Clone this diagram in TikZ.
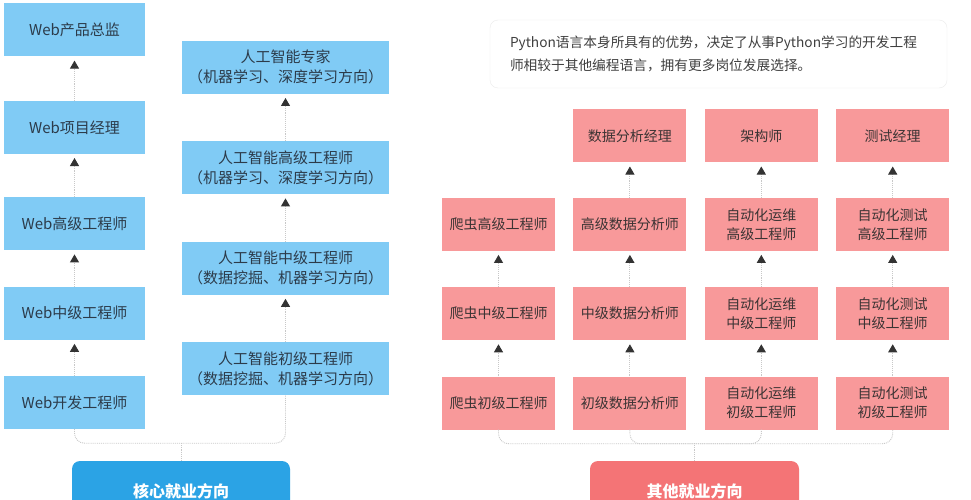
\documentclass[tikz,border=0pt]{standalone}
\usepackage{fontspec}
\newfontfamily\cjk{Noto Sans CJK SC}
\usetikzlibrary{positioning,arrows.meta}

\definecolor{webblue}{HTML}{80CBF5}
\definecolor{coreblue}{HTML}{2BA3E5}
\definecolor{otherred}{HTML}{F8999A}
\definecolor{mainred}{HTML}{F47476}
\definecolor{bluetext}{HTML}{2C3B4A}
\definecolor{redtext}{HTML}{3C3434}
\definecolor{dotgray}{HTML}{C8C8C8}
\definecolor{tipgray}{HTML}{333333}

\begin{document}
\begin{tikzpicture}[
    x=1pt, y=-1pt,
    webbox/.style={fill=webblue, text=bluetext, minimum width=141pt, minimum height=53pt, inner sep=0pt, align=center, font=\cjk\fontsize{15}{20}\selectfont},
    aibox/.style={webbox, minimum width=207pt},
    jobbox/.style={fill=otherred, text=redtext, minimum width=113pt, minimum height=53pt, inner sep=0pt, align=center, font=\cjk\fontsize{14}{19}\selectfont},
    mainbox/.style={rounded corners=8pt, text=white, minimum height=60pt, inner sep=0pt, font=\cjk\bfseries\fontsize{16}{20}\selectfont},
    up/.style={draw=dotgray, densely dotted, line width=0.9pt, shorten >=4pt, -{Triangle[width=9pt,length=8pt,color=tipgray]}},
    bracket/.style={draw=dotgray, densely dotted, line width=0.9pt, rounded corners=10pt}
    ]
    \useasboundingbox[fill=white] (0,0) rectangle (971,500);

    %% Web column
    \node[webbox](w1) at (74.5,402.5) {Web开发工程师};
    \node[webbox](w2)[above=36pt of w1]{Web中级工程师};
    \node[webbox](w3)[above=36pt of w2]{Web高级工程师};
    \node[webbox](w4)[above=43pt of w3]{Web项目经理};
    \node[webbox](w5)[above=44pt of w4]{Web产品总监};

    %% AI column
    \node[aibox](a1) at (285.5,368.5) {人工智能初级工程师\\（数据挖掘、机器学习方向）};
    \node[aibox](a2)[above=47pt of a1]{人工智能中级工程师\\（数据挖掘、机器学习方向）};
    \node[aibox](a3)[above=47pt of a2]{人工智能高级工程师\\（机器学习、深度学习方向）};
    \node[aibox](a4)[above=47pt of a3]{人工智能专家\\（机器学习、深度学习方向）};

    %% Core direction
    \node[mainbox, fill=coreblue, minimum width=218pt](core) at (181,491) {核心就业方向};

    %% Other columns
    \node[jobbox](c1) at (498.5,403) {爬虫初级工程师};
    \node[jobbox](c2)[above=36pt of c1]{爬虫中级工程师};
    \node[jobbox](c3)[above=36pt of c2]{爬虫高级工程师};

    \node[jobbox](d1)[right=18pt of c1]{初级数据分析师};
    \node[jobbox](d2)[above=36pt of d1]{中级数据分析师};
    \node[jobbox](d3)[above=36pt of d2]{高级数据分析师};
    \node[jobbox](d4)[above=35pt of d3]{数据分析经理};

    \node[jobbox](o1)[right=18pt of d1]{自动化运维\\初级工程师};
    \node[jobbox](o2)[above=36pt of o1]{自动化运维\\中级工程师};
    \node[jobbox](o3)[above=36pt of o2]{自动化运维\\高级工程师};
    \node[jobbox](o4)[above=35pt of o3]{架构师};

    \node[jobbox](t1)[right=18pt of o1]{自动化测试\\初级工程师};
    \node[jobbox](t2)[above=36pt of t1]{自动化测试\\中级工程师};
    \node[jobbox](t3)[above=36pt of t2]{自动化测试\\高级工程师};
    \node[jobbox](t4)[above=35pt of t3]{测试经理};

    %% Other direction
    \node[mainbox, fill=mainred, minimum width=209pt](other) at (694.5,491) {其他就业方向};

    %% Note
    \node[draw=black!8, rounded corners=8pt, minimum width=457pt, minimum height=68pt, text width=417pt, align=left, text=black!75, font=\cjk\fontsize{13.7}{23}\selectfont](note) at (718.5,54) {Python语言本身所具有的优势，决定了从事Python学习的开发工程\\师相较于其他编程语言，拥有更多岗位发展选择。};

    %% Career steps
    \draw[up] (w1) -- (w2);
    \draw[up] (w2) -- (w3);
    \draw[up] (w3) -- (w4);
    \draw[up] (w4) -- (w5);
    \draw[up] (a1) -- (a2);
    \draw[up] (a2) -- (a3);
    \draw[up] (a3) -- (a4);
    \draw[up] (c1) -- (c2);
    \draw[up] (c2) -- (c3);
    \draw[up] (d1) -- (d2);
    \draw[up] (d2) -- (d3);
    \draw[up] (d3) -- (d4);
    \draw[up] (o1) -- (o2);
    \draw[up] (o2) -- (o3);
    \draw[up] (o3) -- (o4);
    \draw[up] (t1) -- (t2);
    \draw[up] (t2) -- (t3);
    \draw[up] (t3) -- (t4);

    %% Brackets to the directions
    \draw[bracket] (w1.south) -- ++(0,14) -| (a1.south);
    \draw[bracket] (core.north) -- ++(0,-18);
    \draw[bracket] (c1.south) -- ++(0,14) -| (t1.south);
    \draw[bracket] (d1.south) -- ++(0,14) -| (o1.south);
    \draw[bracket] (other.north) -- ++(0,-18);
\end{tikzpicture}
\end{document}
